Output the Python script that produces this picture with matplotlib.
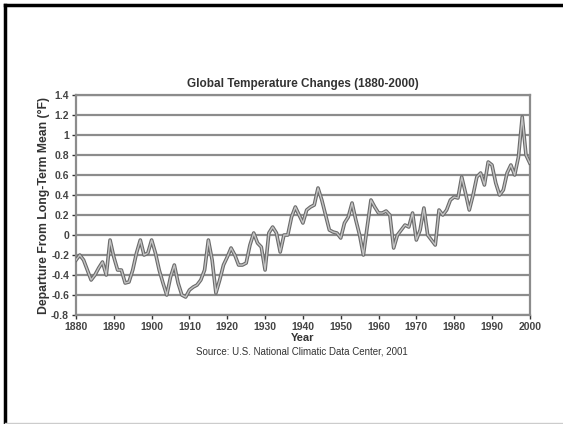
import numpy as np
import matplotlib.pyplot as plt
from matplotlib.lines import Line2D

plt.rcParams['font.family'] = ['Liberation Sans', 'DejaVu Sans']

# annual departures from long-term mean (deg F)
years = list(range(1880, 2001))
temps = [
    -0.25, -0.20, -0.25, -0.35, -0.45, -0.40, -0.33, -0.27, -0.40, -0.05,  # 1880s
    -0.22, -0.35, -0.35, -0.48, -0.47, -0.35, -0.18, -0.05, -0.20, -0.18,  # 1890s
    -0.05, -0.18, -0.35, -0.48, -0.60, -0.42, -0.30, -0.48, -0.60, -0.62,  # 1900s
    -0.55, -0.52, -0.50, -0.45, -0.35, -0.05, -0.25, -0.58, -0.45, -0.30,  # 1910s
    -0.22, -0.13, -0.20, -0.30, -0.30, -0.28, -0.10, 0.02, -0.08, -0.12,   # 1920s
    -0.35, 0.02, 0.08, 0.02, -0.17, 0.00, 0.00, 0.18, 0.28, 0.20,          # 1930s
    0.12, 0.25, 0.28, 0.30, 0.47, 0.35, 0.20, 0.05, 0.03, 0.02,            # 1940s
    -0.03, 0.12, 0.18, 0.32, 0.15, 0.00, -0.20, 0.08, 0.35, 0.28,          # 1950s
    0.22, 0.22, 0.24, 0.20, -0.13, 0.00, 0.05, 0.10, 0.08, 0.22,           # 1960s
    -0.05, 0.05, 0.27, 0.00, -0.05, -0.10, 0.25, 0.20, 0.25, 0.35,         # 1970s
    0.38, 0.37, 0.58, 0.42, 0.25, 0.40, 0.58, 0.62, 0.50, 0.73,            # 1980s
    0.70, 0.52, 0.40, 0.45, 0.62, 0.70, 0.60, 0.78, 1.18, 0.80,            # 1990s
    0.72,
]
yticks = [1.4, 1.2, 1, 0.8, 0.6, 0.4, 0.2, 0, -0.2, -0.4, -0.6, -0.8]
ytick_labels = ['1.4', '1.2', '1', '0.8', '0.6', '0.4', '0.2', '0', '-0.2', '-0.4', '-0.6', '-0.8']
xticks = list(range(1880, 2001, 10))

fig = plt.figure(figsize=(5.63, 4.24), dpi=100)
ax = fig.add_axes([0.135, 0.257, 0.806, 0.519])

for t in yticks:
    ax.axhline(t, color='#8c8c8c', lw=1.6, zorder=1)

# double-edged grey line look
ax.plot(years, temps, color='#6a6a6a', lw=2.6, zorder=3)
ax.plot(years, temps, color='#c4c4c4', lw=1.0, zorder=4)

ax.set_xlim(1880, 2000)
ax.set_ylim(-0.8, 1.4)
ax.set_xticks(xticks)
ax.set_yticks(yticks)
ax.set_yticklabels(ytick_labels)
for s in ax.spines.values():
    s.set_color('#8c8c8c')
    s.set_linewidth(1.6)
ax.tick_params(axis='both', labelsize=7.5, colors='#333333', length=3, width=1, pad=2)
for lab in ax.get_xticklabels() + ax.get_yticklabels():
    lab.set_fontweight('bold')
    lab.set_color('#444444')

ax.set_title('Global Temperature Changes (1880-2000)', fontsize=8.5, fontweight='bold',
             color='#333333', pad=6)
ax.set_ylabel('Departure From Long-Term Mean (°F)', fontsize=8.8, fontweight='bold',
              color='#333333', labelpad=1)
ax.set_xlabel('Year', fontsize=8, fontweight='bold', color='#333333', labelpad=1)
fig.text(0.537, 0.163, 'Source: U.S. National Climatic Data Center, 2001', fontsize=7,
         color='#333333', ha='center')

# outer frame lines
fig.add_artist(Line2D([0.008, 1.0], [0.989, 0.989], color='black', lw=2.5))
fig.add_artist(Line2D([0.008, 0.008], [0.0, 0.989], color='black', lw=2.5))
fig.add_artist(Line2D([0.008, 1.0], [0.002, 0.002], color='#cccccc', lw=1))

fig.savefig('out.png', dpi=100)
